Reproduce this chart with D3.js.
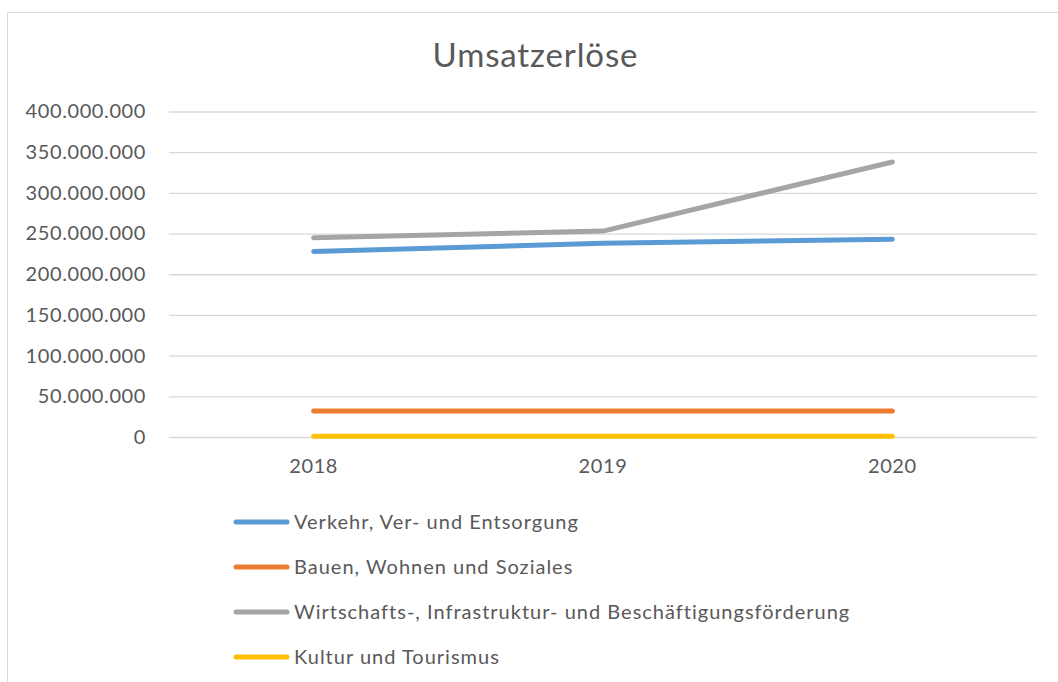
<!DOCTYPE html>
<html>
<head>
<meta charset="utf-8">
<script src="https://cdn.jsdelivr.net/npm/d3@7"></script>
<style>
  body { margin: 0; background: #fff; }
  text { font-family: Lato, "Open Sans", sans-serif; fill: #595959; }
</style>
</head>
<body>
<svg id="chart" width="1058" height="682"></svg>
<script>
// data
var years = ["2018", "2019", "2020"];
var seriesNames = [
  "Verkehr, Ver- und Entsorgung",
  "Bauen, Wohnen und Soziales",
  "Wirtschafts-, Infrastruktur- und Beschäftigungsförderung",
  "Kultur und Tourismus"
];
var verkehr = [228000000, 238000000, 243000000];
var bauen = [32000000, 32000000, 32000000];
var wirtschaft = [245000000, 253000000, 338000000];
var kultur = [800000, 800000, 800000];
var yTicks = [0, 50000000, 100000000, 150000000, 200000000, 250000000, 300000000, 350000000, 400000000];
var colors = ["#5B9BD5", "#ED7D31", "#A5A5A5", "#FFC000"];

var series = [verkehr, bauen, wirtschaft, kultur].map(function(v, i) {
  return { name: seriesNames[i], values: v, color: colors[i] };
});

var svg = d3.select("#chart");

// chart frame
svg.append("rect")
    .attr("x", 7.5).attr("y", 12.5)
    .attr("width", 1100).attr("height", 720)
    .attr("fill", "none").attr("stroke", "#d9d9d9");

svg.append("text")
    .attr("x", 535).attr("y", 67)
    .attr("text-anchor", "middle")
    .style("font-size", "33px")
    .attr("textLength", 205)
    .text("Umsatzerlöse");

var x = d3.scaleBand().domain(years).range([169, 1037]).padding(0);
var y = d3.scaleLinear().domain([0, 400000000]).range([437, 111.5]);

var de = d3.formatLocale({ decimal: ",", thousands: ".", grouping: [3], currency: ["", " €"] });
var fmt = de.format(",d");

// gridlines + y labels
var yAxis = svg.append("g")
    .attr("transform", "translate(169,0)")
    .call(d3.axisLeft(y).tickValues(yTicks).tickFormat(fmt).tickSize(-868).tickPadding(23));
yAxis.select(".domain").remove();
yAxis.selectAll(".tick line").attr("stroke", "#d9d9d9").attr("stroke-width", 1.3);
yAxis.selectAll(".tick text")
    .style("font-size", "20px").style("letter-spacing", "0.6px")
    .attr("fill", "#595959");

// x labels
var xAxis = svg.append("g")
    .attr("transform", "translate(0,437)")
    .call(d3.axisBottom(x).tickSize(0).tickPadding(22));
xAxis.select(".domain").remove();
xAxis.selectAll(".tick text")
    .style("font-size", "20px").style("letter-spacing", "0.6px")
    .attr("fill", "#595959");

var line = d3.line()
    .x(function(d, i) { return x(years[i]) + x.bandwidth() / 2; })
    .y(function(d) { return y(d); });

svg.selectAll(".series")
  .data(series)
  .enter().append("path")
    .attr("class", "series")
    .attr("d", function(d) { return line(d.values); })
    .attr("fill", "none")
    .attr("stroke", function(d) { return d.color; })
    .attr("stroke-width", 5)
    .attr("stroke-linecap", "round")
    .attr("stroke-linejoin", "round");

// legend
var legend = svg.selectAll(".legend")
  .data(series)
  .enter().append("g")
    .attr("class", "legend")
    .attr("transform", function(d, i) { return "translate(0," + (522 + i * 45) + ")"; });

legend.append("line")
    .attr("x1", 236).attr("x2", 287)
    .attr("stroke", function(d) { return d.color; })
    .attr("stroke-width", 5)
    .attr("stroke-linecap", "round");

legend.append("text")
    .attr("x", 294).attr("dy", "0.35em")
    .style("font-size", "20px").style("letter-spacing", "1px")
    .text(function(d) { return d.name; });
</script>
</body>
</html>
